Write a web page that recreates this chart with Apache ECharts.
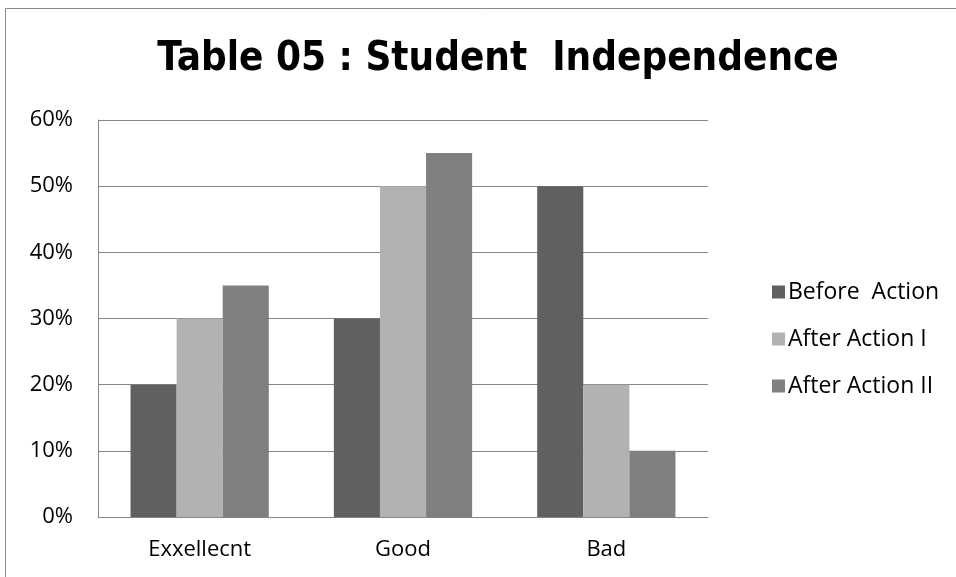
<!DOCTYPE html>
<html>
<head>
<meta charset="utf-8">
<script src="https://cdn.jsdelivr.net/npm/echarts@6/dist/echarts.min.js"></script>
<style>
  html, body { margin: 0; padding: 0; background: #fff; }
  #chart { width: 956px; height: 577px; }
</style>
</head>
<body>
<div id="chart"></div>
<script>
// 数据
var categories = ['Exxellecnt', 'Good', 'Bad'];
var beforeAction = [20, 30, 50];
var afterAction1 = [30, 50, 20];
var afterAction2 = [35, 55, 10];
var seriesNames = ['Before  Action', 'After Action I', 'After Action II'];
var colors = ['#606060', '#b2b2b2', '#808080'];

var myChart = echarts.init(document.getElementById('chart'));

var labelFont = '"Open Sans", sans-serif';

var option = {
    animation: false,
    color: colors,
    graphic: [{
        type: 'rect',
        shape: { x: 5.5, y: 8.5, width: 1000, height: 600 },
        style: { fill: 'none', stroke: '#8a8a8a', lineWidth: 1 },
        z: -1
    }],
    title: {
        text: 'Table 05 : Student  Independence',
        left: 493,
        top: 35,
        textAlign: 'center',
        textStyle: {
            fontFamily: '"DejaVu Sans Condensed", "Liberation Sans", sans-serif',
            fontWeight: 'bold',
            fontSize: 40,
            color: '#000'
        }
    },
    legend: {
        orient: 'vertical',
        left: 767,
        top: 275,
        itemWidth: 13,
        itemHeight: 13,
        itemGap: 23,
        icon: 'rect',
        textStyle: { fontFamily: labelFont, fontSize: 23, lineHeight: 24, color: '#000', padding: [0, 0, 0, -2] },
        data: seriesNames
    },
    grid: { left: 98, right: 248, top: 120, bottom: 60 },
    xAxis: {
        type: 'category',
        data: categories,
        axisLine: { lineStyle: { color: '#868686', width: 1 } },
        axisTick: { show: false },
        axisLabel: { fontFamily: labelFont, fontSize: 22, color: '#000', margin: 22 }
    },
    yAxis: {
        type: 'value',
        min: 0,
        max: 60,
        interval: 10,
        axisLine: { show: true, lineStyle: { color: '#868686', width: 1 } },
        axisTick: { show: false },
        splitLine: { lineStyle: { color: '#868686', width: 1 } },
        axisLabel: {
            fontFamily: labelFont, fontSize: 22, color: '#000', margin: 25,
            formatter: function (v) { return v + '%'; }
        }
    },
    series: [
        { name: seriesNames[0], type: 'bar', data: beforeAction, barGap: '0%', barCategoryGap: '32%' },
        { name: seriesNames[1], type: 'bar', data: afterAction1, barGap: '0%', barCategoryGap: '32%' },
        { name: seriesNames[2], type: 'bar', data: afterAction2, barGap: '0%', barCategoryGap: '32%' }
    ]
};

myChart.setOption(option);
</script>
</body>
</html>
